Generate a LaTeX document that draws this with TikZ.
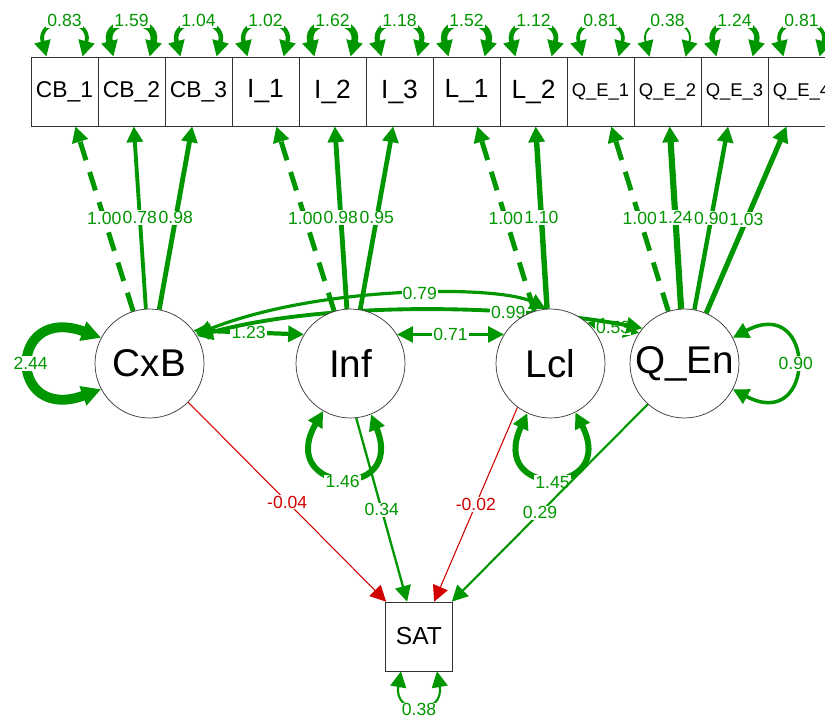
\documentclass[tikz,border=0pt]{standalone}
\usepackage{fontspec}
\setmainfont{Liberation Sans}
\usetikzlibrary{arrows.meta,calc,backgrounds}
\definecolor{semgreen}{RGB}{0,150,0}
\definecolor{semred}{RGB}{210,0,0}

\begin{document}
\begin{tikzpicture}[x=0.02cm,y=0.02cm,
    man/.style={draw=black!80,fill=white,minimum width=1.34cm,minimum height=1.38cm,inner sep=0pt},
    lat/.style={draw=black!80,circle,fill=white,minimum size=2.18cm,inner sep=0pt,font=\fontsize{22}{22}\selectfont},
    lab/.style={fill=white,inner sep=0.6pt,font=\fontsize{10}{10}\selectfont,text=semgreen},
    neglab/.style={lab,text=semred},
    tip/.style={-{Triangle[length=#1,width=#1]}},
    tip/.default=9pt,
    heads/.style={{Triangle[length=#1,width=#1]}-{Triangle[length=#1,width=#1]}},
    heads/.default=9pt,
    load/.style={draw=semgreen,tip},
    fixed/.style={load,dash pattern=on 11pt off 7pt},
    cov/.style={draw=semgreen,heads},
  ]
  \useasboundingbox (0,0) rectangle (825,-717);
  \clip (0,0) rectangle (825,-717);

  % indicators along the top
  \foreach \name/\txt/\fs [count=\i from 0] in {CB1/CB\_1/13,CB2/CB\_2/13,CB3/CB\_3/13,
      I1/I\_1/15,I2/I\_2/15,I3/I\_3/15,L1/L\_1/15,L2/L\_2/15,
      QE1/Q\_E\_1/10.5,QE2/Q\_E\_2/10.5,QE3/Q\_E\_3/10.5,QE4/Q\_E\_4/10.5}
    \node[man,font=\fontsize{\fs}{\fs}\selectfont] (\name) at ({64.5+67*\i},-91.5) {\txt};

  % factors
  \node[lat] (CxB) at (149.5,-363.5) {CxB};
  \node[lat] (Inf) at (350.5,-363.5) {Inf};
  \node[lat] (Lcl) at (550.5,-363.5) {Lcl};
  \node[lat] (QEn) at (684.5,-363.5) {Q\_En};

  % outcome
  \node[man,font=\fontsize{14}{14}\selectfont] (SAT) at (419,-636.5) {SAT};

  \begin{scope}[on background layer]
    % loadings
    \foreach \f/\t/\v/\w/\s in {CxB/CB1/1.00/2.8/fixed,CxB/CB2/0.78/2.2/load,CxB/CB3/0.98/2.75/load,
        Inf/I1/1.00/2.8/fixed,Inf/I2/0.98/2.75/load,Inf/I3/0.95/2.65/load,
        Lcl/L1/1.00/2.8/fixed,Lcl/L2/1.10/3.1/load,
        QEn/QE1/1.00/2.8/fixed,QEn/QE2/1.24/3.5/load,QEn/QE3/0.90/2.5/load,QEn/QE4/1.03/2.9/load}
      \draw[\s,line width=\w pt] (\f) -- node[lab] {\v} (\t);

    % residual variances of the indicators
    \foreach \b/\v/\w in {CB1/0.83/2.2,CB2/1.59/3.8,CB3/1.04/2.6,I1/1.02/2.5,I2/1.62/3.8,I3/1.18/2.9,
        L1/1.52/3.6,L2/1.12/2.7,QE1/0.81/2.1,QE2/0.38/1.1,QE3/1.24/3.0,QE4/0.81/2.1}
      \draw[cov,line width=\w pt] ($(\b.north)+(-18,0)$) to[out=105,in=75,distance=0.85cm]
        node[lab,yshift=3pt] {\v} ($(\b.north)+(18,0)$);

    % factor variances
    \draw[cov,heads=11pt,line width=5.6pt] (CxB.152) to[out=160,in=200,distance=2cm] node[lab] {2.44} (CxB.208);
    \draw[cov,line width=3.4pt] (Inf.240) to[out=240,in=292,distance=1.9cm] node[lab,yshift=-3pt] {1.46} (Inf.292);
    \draw[cov,line width=3.4pt] (Lcl.245) to[out=245,in=297,distance=1.9cm] node[lab,yshift=-3pt] {1.45} (Lcl.297);
    \draw[cov,line width=2pt] (QEn.28) to[out=28,in=-28,distance=1.9cm] node[lab] {0.90} (QEn.-28);
    \draw[cov,line width=1.2pt] ($(SAT.south)+(-18,0)$) to[out=-100,in=-80,distance=0.9cm]
      node[lab,yshift=-3pt] {0.38} ($(SAT.south)+(18,0)$);

    % factor covariances
    \draw[cov,line width=2.4pt] (CxB.37) -- node[lab] {1.23} (Inf.148);
    \draw[cov,line width=1.6pt] (Inf.32) -- node[lab] {0.71} (Lcl.148);
    \draw[cov,line width=1.2pt] (Lcl.48) -- node[lab] {0.53} (QEn.146);
    \draw[cov,line width=1.8pt] (CxB.32) .. controls (320,-285) and (500,-285) .. (Lcl.95)
      node[lab,pos=0.55] {0.79};
    \draw[cov,line width=2.2pt] (CxB.30) .. controls (330,-300) and (520,-305) .. (QEn.140)
      node[lab,pos=0.68] {0.99};

    % regressions on SAT
    \draw[draw=semred,tip,line width=0.6pt] (CxB.-45) -- node[neglab] {-0.04} ($(SAT.north west)+(1,0)$);
    \draw[load,line width=1.3pt] (Inf.-84) -- node[lab] {0.34} ($(SAT.north west)+(22,0)$);
    \draw[draw=semred,tip,line width=0.6pt] (Lcl.233) -- node[neglab] {-0.02} ($(SAT.north west)+(49,0)$);
    \draw[load,line width=1.2pt] (QEn.228) -- node[lab,pos=0.55] {0.29} ($(SAT.north east)+(-1,0)$);
  \end{scope}
\end{tikzpicture}
\end{document}
